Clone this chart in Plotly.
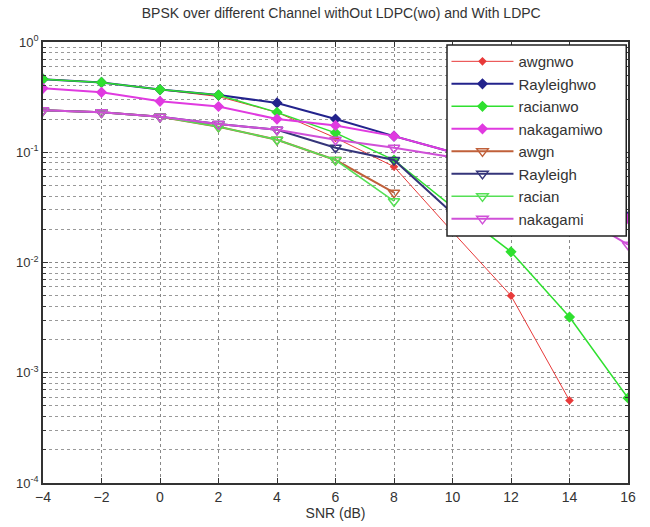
import plotly.graph_objects as go

snr = [-4, -2, 0, 2, 4, 6, 8, 10, 12, 14, 16]

awgnwo      = [0.46, 0.43, 0.37, 0.32, 0.23, 0.135, 0.074, 0.019, 0.005, 0.00056]
rayleighwo  = [0.46, 0.43, 0.37, 0.33, 0.28, 0.20, 0.14, 0.10, 0.07, 0.045, 0.026]
racianwo    = [0.46, 0.43, 0.37, 0.33, 0.23, 0.15, 0.085, 0.032, 0.0125, 0.0032, 0.00059]
nakagamiwo  = [0.38, 0.35, 0.29, 0.26, 0.20, 0.175, 0.14, 0.10, 0.07, 0.045, 0.025]
awgn        = [0.24, 0.23, 0.21, 0.17, 0.13, 0.085, 0.043]
rayleigh    = [0.24, 0.23, 0.21, 0.18, 0.16, 0.11, 0.085, 0.028]
racian      = [0.24, 0.23, 0.21, 0.17, 0.13, 0.085, 0.036]
nakagami    = [0.24, 0.23, 0.21, 0.18, 0.16, 0.13, 0.11, 0.09, 0.05, 0.03, 0.0145]

series = [
    ("awgnwo", awgnwo, "#e83a3a", "diamond", 5, 1),
    ("Rayleighwo", rayleighwo, "#23238c", "diamond", 7, 2),
    ("racianwo", racianwo, "#2fe02f", "diamond", 7, 1.5),
    ("nakagamiwo", nakagamiwo, "#e03ae0", "diamond", 7, 2),
    ("awgn", awgn, "#c0603a", "triangle-down-open", 10, 2),
    ("Rayleigh", rayleigh, "#35357a", "triangle-down-open", 10, 2),
    ("racian", racian, "#55e055", "triangle-down-open", 10, 1.5),
    ("nakagami", nakagami, "#d050d8", "triangle-down-open", 10, 2),
]

fig = go.Figure()
for name, ys, col, sym, sz, w in series:
    fig.add_trace(go.Scatter(
        x=snr[:len(ys)], y=ys, name=name, mode="lines+markers",
        line=dict(color=col, width=w),
        marker=dict(symbol=sym, size=sz, color=col, line=dict(color=col, width=1.5)),
    ))

# legend frame (MATLAB-style opaque box) drawn over the traces, under the legend
fig.add_shape(type="rect", xref="paper", yref="paper",
              x0=0.6906, x1=0.997, y0=0.560, y1=0.993,
              fillcolor="white", line=dict(color="#222", width=1.5), layer="above")

fig.update_layout(
    width=650, height=527,
    margin=dict(l=43, r=22, t=42, b=44, autoexpand=False),
    paper_bgcolor="white", plot_bgcolor="white",
    font=dict(family="Liberation Sans, Arial", size=14, color="#333"),
    title=dict(text="BPSK over different Channel withOut LDPC(wo) and With LDPC",
               x=0.525, xanchor="center", y=0.975, yanchor="middle",
               font=dict(size=14, color="#333")),
    showlegend=True,
    legend=dict(x=0.6897, y=0.993, xanchor="left", yanchor="top",
                bgcolor="rgba(0,0,0,0)", borderwidth=0,
                font=dict(size=15, color="#333"), itemwidth=62,
                tracegroupgap=0),
)

fig.update_xaxes(
    range=[-4, 16], tickvals=[-4, -2, 0, 2, 4, 6, 8, 10, 12, 14, 16],
    ticks="inside", ticklen=5, tickcolor="#333", mirror="allticks",
    showline=True, linecolor="#333", linewidth=1.5,
    showgrid=True, gridcolor="#888", griddash="dot", gridwidth=1,
    zeroline=False, automargin=False,
    title=dict(text="SNR (dB)", standoff=4, font=dict(size=14)),
    tickfont=dict(size=14),
)
fig.update_yaxes(
    type="log", range=[-4, 0],
    tickvals=[1e-4, 1e-3, 1e-2, 1e-1, 1],
    ticktext=["10<sup>-4</sup>", "10<sup>-3</sup>", "10<sup>-2</sup>", "10<sup>-1</sup>", "10<sup>0</sup>"],
    ticks="inside", ticklen=5, tickcolor="#333", mirror="allticks",
    showline=True, linecolor="#333", linewidth=1.5,
    showgrid=True, gridcolor="#888", griddash="dot", gridwidth=1,
    minor=dict(dtick="D1", showgrid=True, gridcolor="#999", griddash="dot",
               ticks="inside", ticklen=3, tickcolor="#333"),
    zeroline=False, automargin=False, tickfont=dict(size=13),
)

fig.write_html("out.html", config={"displayModeBar": False},
               post_script="document.body.style.margin='0';document.body.style.overflow='hidden';")
